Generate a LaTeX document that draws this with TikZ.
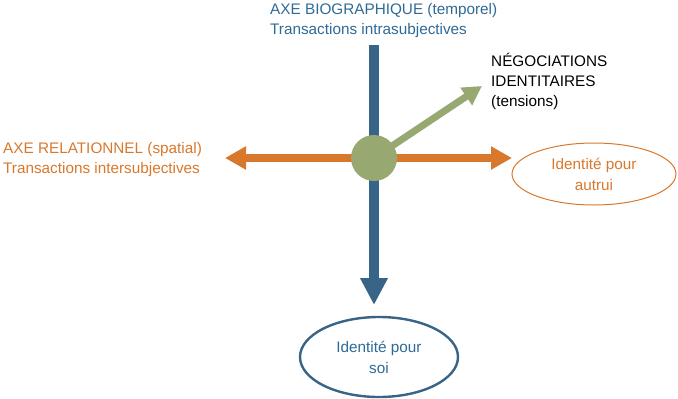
\documentclass[tikz,border=0pt]{standalone}
\usepackage{fontspec}
\setmainfont{Liberation Sans}
\usetikzlibrary{arrows.meta,shapes.geometric}
\definecolor{axblue}{HTML}{386487}
\definecolor{txblue}{HTML}{2F6A96}
\definecolor{axorange}{HTML}{D8782C}
\definecolor{axgreen}{HTML}{97A871}
\tikzset{
  lbl/.style={anchor=north west,align=left,font=\fontsize{15.3}{19.8}\selectfont,inner sep=0pt},
  elltxt/.style={draw,ellipse,align=center,font=\fontsize{15.3}{21}\selectfont,inner sep=0pt}
}
\begin{document}
\begin{tikzpicture}[x=1pt,y=-1pt]
\useasboundingbox (0,0) rectangle (678,399);
% ellipses
\node[elltxt,draw=axblue,line width=2.4pt,text=txblue,minimum width=158pt,minimum height=80pt] (soi) at (379,357) {Identité pour\\soi};
\node[elltxt,draw=axorange,line width=1pt,text=axorange,minimum width=164pt,minimum height=62pt] (autrui) at (594,174) {Identité pour\\autrui};
% coordinates
\coordinate (top) at (374,45);
\coordinate (lefttip) at (225,158);
\coordinate (righttip) at (512,158);
\coordinate (negtip) at (482,86);
\coordinate (ctr) at (374,158);
% axes
\draw[axblue,line width=10pt,-{Triangle[length=27pt,width=26pt]}] (top) -- (374,305);
\draw[axorange,line width=8pt,{Triangle[length=21pt,width=22pt]}-{Triangle[length=21pt,width=22pt]}] (lefttip) -- (righttip);
\draw[axgreen,line width=7pt,-{Triangle[length=19pt,width=20pt]}] (ctr) -- (negtip);
\node[circle,fill=axgreen,minimum size=46pt,inner sep=0pt] (c) at (ctr) {};
% labels
\node[lbl,text=txblue] (bio) at (270,3) {AXE BIOGRAPHIQUE (temporel)\\Transactions intrasubjectives};
\node[lbl,text=black] (neg) at (491,53) {NÉGOCIATIONS\\IDENTITAIRES\\(tensions)};
\node[lbl,text=axorange] (rel) at (3,142.5) {AXE RELATIONNEL (spatial)\\Transactions intersubjectives};
\end{tikzpicture}
\end{document}
